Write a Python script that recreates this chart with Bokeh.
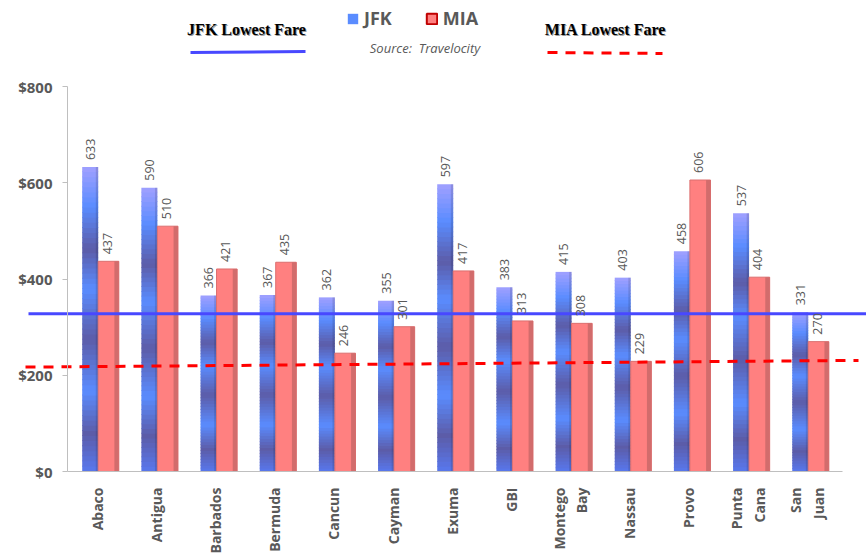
import numpy as np
from bokeh.plotting import figure
from bokeh.models import (Range1d, LinearAxis, FixedTicker, Legend, LegendItem,
                          ColumnDataSource, Label)
from bokeh.embed import file_html
from bokeh.resources import INLINE
from bokeh.core.properties import value

# ---------------- data ----------------
cities = ["Abaco", "Antigua", "Barbados", "Bermuda", "Cancun", "Cayman", "Exuma",
          "GBI", "Montego\nBay", "Nassau", "Provo", "Punta\nCana", "San\nJuan"]
jfk = [633, 590, 366, 367, 362, 355, 597, 383, 415, 403, 458, 537, 331]
mia = [437, 510, 421, 435, 246, 301, 417, 313, 308, 229, 606, 404, 270]
y_ticks = [0, 200, 400, 600, 800]
y_tick_labels = ["$0", "$200", "$400", "$600", "$800"]
jfk_lowest_line = [328, 328]      # drawn reference line (left end, right end)
mia_lowest_line = [217, 231]      # drawn dashed reference line (left end, right end)

# ---------------- geometry helpers (page pixels -> data) ----------------
X0, DX = 96.7, 59.17      # page x of category 0, px per category
Y0, DY = 471.0, 0.481     # page y of $0, px per dollar
def X(px):
    return (px - X0) / DX
def Y(py):
    return (Y0 - py) / DY

W, H = 866, 555
p = figure(width=W, height=H, output_backend="svg", toolbar_location=None,
           x_range=Range1d(X(0), X(W)), y_range=Range1d(Y(H), Y(0)),
           x_axis_location=None, y_axis_location=None, min_border=0)
p.outline_line_color = None
p.grid.visible = False
p.background_fill_color = "white"

n = len(cities)
idx = np.arange(n)

# ---------------- JFK bars with banded gradient ----------------
jfk_off, jfk_w = -7.0 / DX, 16.0 / DX
stops_s = [0.0, 0.13, 0.27, 0.40, 0.565, 0.735, 0.875, 1.0]
stops_c = np.array([[160, 160, 255], [90, 140, 255], [92, 92, 168], [90, 140, 255],
                    [92, 92, 168], [90, 140, 255], [92, 92, 168], [88, 120, 238]], float)
N = 60
xs, bots, tops, cols = [], [], [], []
for i, v in enumerate(jfk):
    for k in range(N):
        s = 1 - (k + 0.5) / N
        c = [np.interp(s, stops_s, stops_c[:, j]) for j in range(3)]
        xs.append(i + jfk_off)
        bots.append(v * k / N)
        tops.append(min(v, v * (k + 1) / N + 0.8 / DY))
        cols.append("#%02x%02x%02x" % tuple(int(round(t)) for t in c))
src = ColumnDataSource(dict(x=xs, bottom=bots, top=tops, color=cols))
p.vbar(x="x", bottom="bottom", top="top", width=jfk_w, source=src,
       fill_color="color", line_color=None)
# darker right side of JFK bars
p.vbar(x=idx + jfk_off + (jfk_w / 2 - 1.2 / DX), top=jfk, width=2.4 / DX,
       fill_color="black", fill_alpha=0.12, line_color=None)

# ---------------- MIA bars ----------------
mia_off, mia_w = 11.3 / DX, 20.6 / DX
p.vbar(x=idx + mia_off, top=mia, width=mia_w, fill_color="#ff8080",
       line_color="#dc6e6e", line_width=1)
p.vbar(x=idx + mia_off + (mia_w / 2 - 2.2 / DX), top=mia, width=4.4 / DX,
       fill_color="#d26c6c", line_color=None)

# ---------------- reference lines ----------------
p.line(x=[X(28), X(W)], y=jfk_lowest_line, line_color="#4848ff", line_width=3)
p.line(x=[X(25), X(858)], y=mia_lowest_line, line_color="#ff0000", line_width=3,
       line_dash="10 8")

# ---------------- data labels ----------------
lab_gap = 7.0 / DY
p.text(x=idx + jfk_off, y=np.array(jfk) + lab_gap, text=[str(v) for v in jfk],
       angle=np.pi / 2, text_align="left", text_baseline="middle",
       text_font=value("Open Sans"), text_font_size="12.5px", text_color="#595959")
p.text(x=idx + mia_off - 1.5 / DX, y=np.array(mia) + lab_gap, text=[str(v) for v in mia],
       angle=np.pi / 2, text_align="left", text_baseline="middle",
       text_font=value("Open Sans"), text_font_size="12.5px", text_color="#595959")

# ---------------- axes ----------------
yaxis = LinearAxis(fixed_location=X(67), bounds=(0, 800),
                   ticker=FixedTicker(ticks=y_ticks),
                   major_label_overrides={t: l for t, l in zip(y_ticks, y_tick_labels)})
yaxis.axis_line_color = "#bfbfbf"
yaxis.major_tick_line_color = "#bfbfbf"
yaxis.major_tick_in = 0
yaxis.major_tick_out = 5
yaxis.minor_tick_line_color = None
yaxis.major_label_standoff = 10
yaxis.major_label_text_font = "Open Sans"
yaxis.major_label_text_font_style = "bold"
yaxis.major_label_text_font_size = "15px"
yaxis.major_label_text_color = "#595959"
p.add_layout(yaxis, "left")

xaxis = LinearAxis(fixed_location=0, bounds=(X(67), X(842)),
                   ticker=FixedTicker(ticks=list(range(n))),
                   major_label_overrides={i: c for i, c in enumerate(cities)})
xaxis.axis_line_color = "#bfbfbf"
xaxis.major_tick_line_color = None
xaxis.major_tick_in = 0
xaxis.major_tick_out = 0
xaxis.minor_tick_line_color = None
xaxis.major_label_orientation = np.pi / 2
xaxis.major_label_standoff = 16
xaxis.major_label_text_font = "Open Sans"
xaxis.major_label_text_font_style = "bold"
xaxis.major_label_text_font_size = "14px"
xaxis.major_label_text_color = "#595959"
p.add_layout(xaxis, "below")

# ---------------- legend ----------------
r_jfk = p.vbar(x=idx + jfk_off, top=jfk, width=jfk_w, fill_color="#5a8cff",
               line_color=None, visible=False)
r_mia = p.vbar(x=idx + mia_off, top=mia, width=mia_w, fill_color="#ff8080",
               line_color="#c00000", line_width=2, visible=False)
legend = Legend(items=[LegendItem(label="JFK", renderers=[r_jfk], index=0),
                       LegendItem(label="MIA", renderers=[r_mia], index=0)],
                orientation="horizontal", location=(346, 525),
                padding=0, margin=0, spacing=33, label_standoff=5,
                glyph_width=13, glyph_height=13,
                border_line_color=None, background_fill_alpha=0,
                label_text_font="Open Sans", label_text_font_style="bold",
                label_text_font_size="18px", label_text_color="#595959")
p.add_layout(legend, "center")

# ---------------- header texts ----------------
for txt, cx in [("JFK Lowest Fare", 246), ("MIA Lowest Fare", 605)]:
    p.add_layout(Label(x=X(cx) + 1 / DX, y=Y(29) - 1 / DY, text=txt, text_align="center",
                       text_baseline="middle", text_font="Liberation Serif",
                       text_font_style="bold", text_font_size="16px", text_color="#9a9a9a"))
    p.add_layout(Label(x=X(cx), y=Y(29), text=txt, text_align="center",
                       text_baseline="middle", text_font="Liberation Serif",
                       text_font_style="bold", text_font_size="16px", text_color="black"))
p.line(x=[X(190), X(305)], y=[Y(52), Y(51)], line_color="#4848ff", line_width=3)
p.line(x=[X(547), X(662)], y=[Y(52), Y(53)], line_color="#ff0000", line_width=3,
       line_dash="10 8")
p.add_layout(Label(x=X(424.5), y=Y(47.5), text="Source:\u00a0 Travelocity",
                   text_align="center", text_baseline="middle", text_font="Open Sans",
                   text_font_style="italic", text_font_size="13px", text_color="#595959"))

open("out.html", "w").write(file_html(p, INLINE))
